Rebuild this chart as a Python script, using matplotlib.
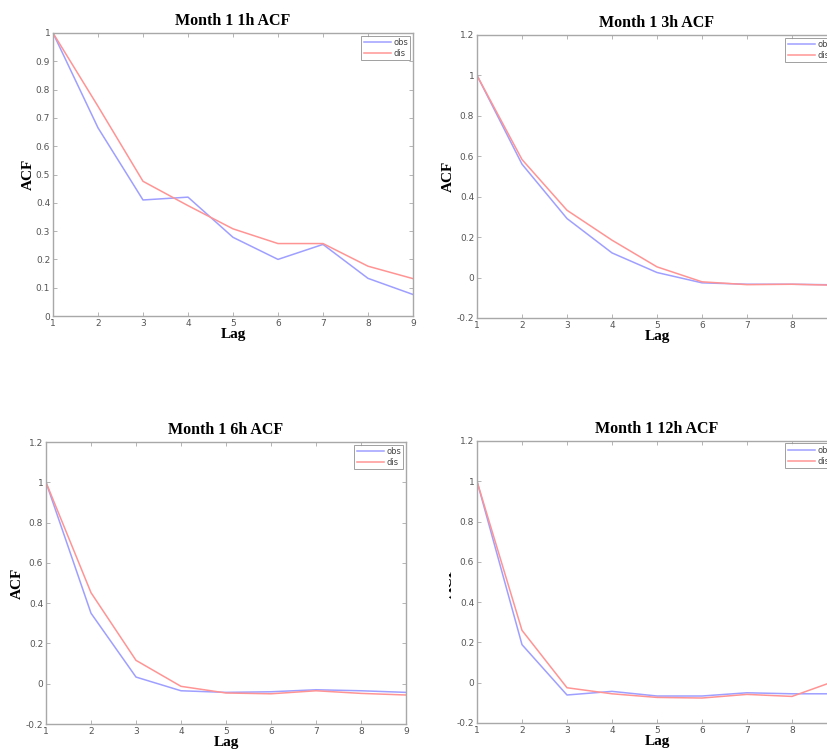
import matplotlib
matplotlib.use("Agg")
import matplotlib.pyplot as plt
from matplotlib.transforms import Bbox

# 数据：四个时间尺度的 ACF（obs 观测, dis 分解）
lags = [1, 2, 3, 4, 5, 6, 7, 8, 9]
titles = ["Month 1 1h ACF", "Month 1 3h ACF", "Month 1 6h ACF", "Month 1 12h ACF"]

obs_1h = [1.0, 0.665, 0.41, 0.42, 0.278, 0.20, 0.253, 0.133, 0.076]
dis_1h = [1.0, 0.741, 0.476, 0.39, 0.308, 0.256, 0.256, 0.176, 0.132]

obs_3h = [1.0, 0.561, 0.292, 0.122, 0.025, -0.026, -0.033, -0.033, -0.036]
dis_3h = [1.0, 0.584, 0.333, 0.185, 0.053, -0.021, -0.035, -0.033, -0.038]

obs_6h = [1.0, 0.35, 0.033, -0.035, -0.043, -0.04, -0.03, -0.035, -0.043]
dis_6h = [1.0, 0.452, 0.116, -0.013, -0.046, -0.05, -0.035, -0.048, -0.056]

obs_12h = [1.0, 0.189, -0.061, -0.043, -0.066, -0.066, -0.05, -0.055, -0.055]
dis_12h = [1.0, 0.26, -0.025, -0.055, -0.073, -0.076, -0.058, -0.068, 0.012]

yticks_1h = [0, 0.1, 0.2, 0.3, 0.4, 0.5, 0.6, 0.7, 0.8, 0.9, 1]
yticklabels_1h = ["0", "0.1", "0.2", "0.3", "0.4", "0.5", "0.6", "0.7", "0.8", "0.9", "1"]
yticks_other = [-0.2, 0, 0.2, 0.4, 0.6, 0.8, 1, 1.2]
yticklabels_other = ["-0.2", "0", "0.2", "0.4", "0.6", "0.8", "1", "1.2"]

W, H = 828, 750
fig = plt.figure(figsize=(W / 100, H / 100), dpi=100)

# 子图位置（像素：左, 上, 右, 下）
boxes = [(53, 33, 413, 316), (477, 35, 837, 318), (46, 442, 406, 724), (477, 441, 837, 723)]
series = [(obs_1h, dis_1h), (obs_3h, dis_3h), (obs_6h, dis_6h), (obs_12h, dis_12h)]

spine_col = "#a8a8a8"
tick_col = "#555555"
serif = ["Liberation Serif", "DejaVu Serif"]

for i, (l, t, r, b) in enumerate(boxes):
    ax = fig.add_axes([l / W, 1 - b / H, (r - l) / W, (b - t) / H])
    obs, dis = series[i]
    ax.plot(lags, obs, color="#9f9fff", lw=1.1, label="obs")
    ax.plot(lags, dis, color="#ff9494", lw=1.1, label="dis")
    ax.set_xlim(1, 9)
    ax.set_xticks(lags)
    if i == 0:
        ax.set_ylim(0, 1)
        ax.set_yticks(yticks_1h)
        ax.set_yticklabels(yticklabels_1h)
    else:
        ax.set_ylim(-0.2, 1.2)
        ax.set_yticks(yticks_other)
        ax.set_yticklabels(yticklabels_other)
    for s in ax.spines.values():
        s.set_color(spine_col)
        s.set_linewidth(1.0)
    ax.tick_params(direction="in", length=3, width=0.6, colors=spine_col,
                   labelcolor=tick_col, labelsize=6.5, top=True, right=True, pad=2)
    ax.set_title(titles[i], fontsize=11.5, fontweight="bold", family=serif, pad=6)
    ax.set_xlabel("Lag", fontsize=11, fontweight="bold", family=serif, labelpad=0)
    yl = ax.set_ylabel("ACF", fontsize=11, fontweight="bold", family=serif, labelpad=1)
    if i == 3:
        # 原图中该标签被部分遮挡
        yl.set_clip_box(Bbox([[449, 0], [470, H]]))
        yl.set_clip_on(True)
    leg = ax.legend(loc="upper right", fontsize=6, frameon=True, fancybox=False,
                    handlelength=3.2, borderaxespad=0.3, borderpad=0.3,
                    labelspacing=0.2, handletextpad=0.3)
    leg.get_frame().set_edgecolor("#888888")
    leg.get_frame().set_linewidth(0.7)
    for txt in leg.get_texts():
        txt.set_color("#444444")

fig.savefig("out.png", dpi=100)
